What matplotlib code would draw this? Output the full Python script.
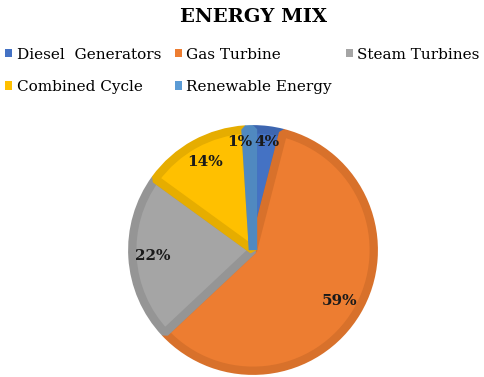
import matplotlib.pyplot as plt
from matplotlib.patches import Patch

# Data
labels = ['Diesel  Generators', 'Gas Turbine', 'Steam Turbines',
          'Combined Cycle', 'Renewable Energy']
shares = [4, 59, 22, 14, 1]
colors = ['#4472C4', '#ED7D31', '#A5A5A5', '#FFC000', '#5B9BD5']
edges = ['#3D66B0', '#D8712B', '#959595', '#E6AD00', '#5089C0']

plt.rcParams['font.family'] = 'DejaVu Serif'

fig = plt.figure(figsize=(4.84, 3.77), dpi=100)
ax = fig.add_axes([0.2645, 0.0053, 0.5165, 0.6631])

# slightly smaller radius so the thick darker border ends at the rim
wedges, texts, autotexts = ax.pie(
    shares, colors=colors, startangle=90, counterclock=False,
    radius=0.966, autopct='%1.0f%%', pctdistance=0.83,
    wedgeprops=dict(linewidth=6, joinstyle='bevel'),
    textprops=dict(fontsize=11, fontweight='bold', color='#1a1a1a'))

for w, ec in zip(wedges, edges):
    w.set_edgecolor(ec)

# nudge the two small labels apart like the original
autotexts[0].set_position((0.112, 0.864))
autotexts[4].set_position((-0.104, 0.864))

ax.set_xlim(-1, 1)
ax.set_ylim(-1, 1)
ax.set_aspect('auto')

fig.text(0.523, 0.978, 'ENERGY MIX', ha='center', va='top',
         fontsize=14, fontweight='bold')

# legend reads row by row, matplotlib fills column by column
order = [0, 3, 1, 4, 2]
handles = [Patch(facecolor=colors[i], edgecolor='none') for i in order]
fig.legend(handles, [labels[i] for i in order], loc='upper left',
           bbox_to_anchor=(0.008, 0.878),
           ncol=3, frameon=False, fontsize=11,
           handlelength=0.45, handleheight=0.45, handletextpad=0.3,
           columnspacing=0.9, labelspacing=1.2, borderaxespad=0,
           borderpad=0.1)

fig.savefig('out.png', dpi=100)
